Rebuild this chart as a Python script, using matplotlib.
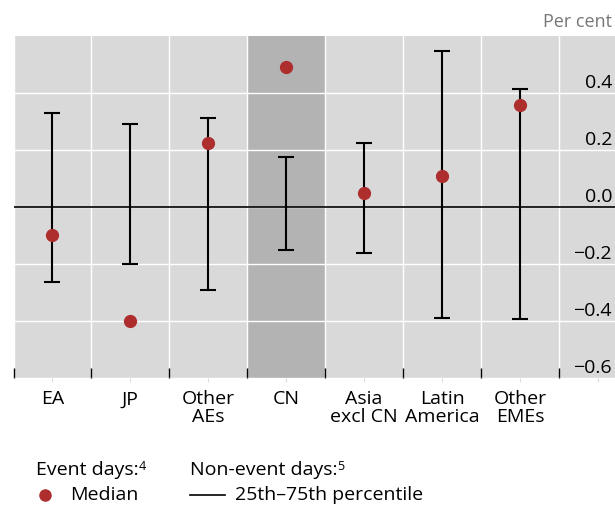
import numpy as np
import matplotlib.pyplot as plt
import matplotlib.transforms as mtransforms
from matplotlib.lines import Line2D

plt.rcParams['font.family'] = ['Open Sans', 'DejaVu Sans']

# datos (per cent)
categorias = ["EA", "JP", "Other\nAEs", "CN", "Asia\nexcl CN", "Latin\nAmerica", "Other\nEMEs"]
mediana = [-0.10, -0.40, 0.224, 0.488, 0.049, 0.107, 0.355]
p25 = [-0.262, -0.202, -0.292, -0.151, -0.162, -0.390, -0.393]
p75 = [0.329, 0.291, 0.312, 0.174, 0.222, 0.544, 0.414]
yticks = [-0.6, -0.4, -0.2, 0.0, 0.2, 0.4]

gris = "#d9d9d9"
gris_cn = "#b3b3b3"
rojo = "#ae2d2d"
fs = 14

fig = plt.figure(figsize=(6.15, 5.05), dpi=100)
ax = fig.add_axes([13.5 / 615, 1 - 378 / 505, 1 - 13.5 / 615, (378 - 35.5) / 505])
ax.set_facecolor(gris)

x = np.arange(len(categorias))
ax.set_xlim(-0.5, 7.22)
ax.set_ylim(-0.6, 0.6)

# columna de China sombreada
ax.axvspan(2.5, 3.5, color=gris_cn, zorder=0.2, lw=0)

# barras 25-75 y medianas
centro = (np.array(p25) + np.array(p75)) / 2
semi = (np.array(p75) - np.array(p25)) / 2
ax.errorbar(x, centro, yerr=semi, fmt='none', ecolor='black', elinewidth=1.5,
            capsize=5.8, capthick=1.5, zorder=3)
ax.plot(x, mediana, 'o', color=rojo, markersize=8.5, zorder=4)
ax.axhline(0, color='black', lw=1.2, zorder=2)

# rejilla blanca
ax.set_axisbelow(True)
ax.set_yticks(yticks)
ax.set_xticks(np.arange(8))
ax.set_xticklabels(categorias + [""], fontsize=fs, linespacing=1.0)
ax.set_xticks(np.arange(-0.5, 7.0, 1), minor=True)
ax.grid(True, which='minor', axis='x', color='white', lw=1)
ax.grid(True, which='major', axis='y', color='white', lw=1)
ax.tick_params(axis='x', which='major', length=3, color='#dddddd', pad=6)
ax.tick_params(axis='x', which='minor', direction='in', length=7, color='black', width=1)
ax.tick_params(axis='y', length=0, labelleft=False, labelright=False)

# etiquetas del eje y dentro del area, encima de la linea
off = mtransforms.ScaledTranslation(-3 / 100, 1 / 100, fig.dpi_scale_trans)
trans = mtransforms.blended_transform_factory(ax.transAxes, ax.transData) + off
for v in yticks:
    ax.text(1.0, v, f"{v:.1f}".replace("-", "\u2212"), transform=trans,
            ha='right', va='bottom', fontsize=fs)

for s in ax.spines.values():
    s.set_visible(False)

fig.text(612 / 615, 1 - 22 / 505, "Per cent", ha='right', va='center',
         fontsize=13, color='#777777')

# leyenda
t1 = fig.text(36 / 615, 1 - 470 / 505, "Event days:", ha='left', va='center', fontsize=fs)
t2 = fig.text(190 / 615, 1 - 470 / 505, "Non-event days:", ha='left', va='center', fontsize=fs)
for t, n in [(t1, "4"), (t2, "5")]:
    ax.annotate(n, xy=(1, 1), xycoords=t, xytext=(0, 1), textcoords='offset points',
                ha='left', va='top', fontsize=9)
fig.add_artist(Line2D([45 / 615], [1 - 495 / 505], marker='o', color=rojo,
                      markersize=8, transform=fig.transFigure))
fig.text(70 / 615, 1 - 495 / 505, "Median", ha='left', va='center', fontsize=fs)
fig.add_artist(Line2D([190 / 615, 225 / 615], [1 - 495 / 505] * 2, color='black',
                      lw=1.2, transform=fig.transFigure))
fig.text(235 / 615, 1 - 495 / 505, "25th\u201375th percentile", ha='left', va='center', fontsize=fs)

fig.savefig("out.png", dpi=100)
